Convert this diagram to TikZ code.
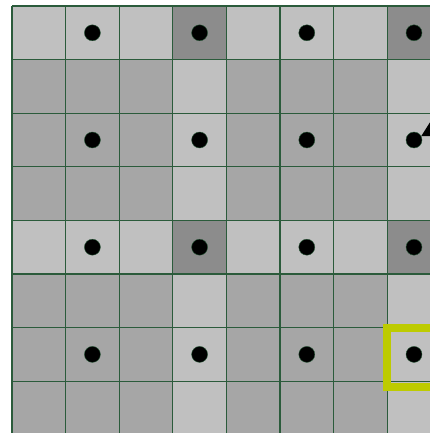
\documentclass[tikz,border=0pt]{standalone}
\usepackage{tikz}
\usetikzlibrary{positioning,arrows.meta}
\usepackage{xcolor}

\definecolor{cellLight}{HTML}{C0C0C0}
\definecolor{cellMid}{HTML}{A6A6A6}
\definecolor{cellDark}{HTML}{8C8C8C}
\definecolor{gridGreen}{HTML}{2B5B3B}
\definecolor{markGreen}{HTML}{BDCB00}

\begin{document}
\begin{tikzpicture}[
    x=1pt, y=-1pt,
    >=Stealth,
    gridline/.style={draw=gridGreen, line width=1.3pt},
    site/.style={circle, fill=black, draw=gridGreen, line width=0.4pt, inner sep=0pt, minimum size=16pt},
    marker/.style={draw=markGreen, line width=8pt}
]

\clip (0,0) rectangle (430,433);
\fill[white] (0,0) rectangle (430,433);

% cell shading
\fill[cellMid] (12,6) rectangle (441,435);
\fill[cellLight] (12,6) rectangle (441,59.6);
\fill[cellLight] (12,220.4) rectangle (441,274);
\fill[cellLight] (172.8,6) rectangle (226.4,435);
\fill[cellLight] (387.2,6) rectangle (441,435);
\fill[cellDark] (172.8,6) rectangle (226.4,59.6);
\fill[cellDark] (387.2,6) rectangle (441,59.6);
\fill[cellDark] (172.8,220.4) rectangle (226.4,274);
\fill[cellDark] (387.2,220.4) rectangle (441,274);

% grid
\draw[gridline] \foreach \k in {0,...,8} {
    (12+53.6*\k,6) -- ++(0,440)
    (12,6+53.6*\k) -- ++(440,0)
};

% sites
\node[site] (dot-1-0) at (92.4,32.8) {};
\node[site] (dot-3-0) at (199.6,32.8) {};
\node[site] (dot-5-0) at (306.8,32.8) {};
\node[site] (dot-7-0) at (414,32.8) {};
\node[site] (dot-1-2) at (92.4,140) {};
\node[site] (dot-3-2) at (199.6,140) {};
\node[site] (dot-5-2) at (306.8,140) {};
\node[site] (dot-7-2) at (414,140) {};
\node[site] (dot-1-4) at (92.4,247.2) {};
\node[site] (dot-3-4) at (199.6,247.2) {};
\node[site] (dot-5-4) at (306.8,247.2) {};
\node[site] (dot-7-4) at (414,247.2) {};
\node[site] (dot-1-6) at (92.4,354.4) {};
\node[site] (dot-3-6) at (199.6,354.4) {};
\node[site] (dot-5-6) at (306.8,354.4) {};
\node[site] (dot-7-6) at (414,354.4) {};

% highlighted cell
\draw[marker] (387,328) rectangle (450,387);

% pointer
\coordinate (pointer) at (458,116);
\draw[line width=3pt, -{Triangle[angle=56:22pt]}] (pointer) -- (dot-7-2);

\end{tikzpicture}
\end{document}
